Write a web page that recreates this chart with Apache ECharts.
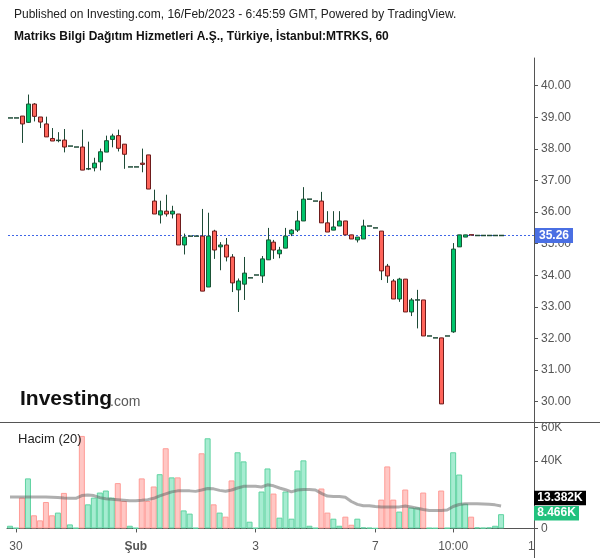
<!DOCTYPE html>
<html><head><meta charset="utf-8">
<script src="https://cdn.jsdelivr.net/npm/echarts@6/dist/echarts.min.js"></script>
<style>html,body{margin:0;padding:0;background:#fff}#c{width:600px;height:558px}</style>
</head><body><div id="c"></div>
<script>
const openP = [38.98,38.98,39.04,38.84,39.42,39.01,38.79,38.33,38.27,38.28,
38.09,38.06,38.06,37.37,37.40,37.59,37.90,38.30,38.42,38.15,
37.43,37.43,37.55,37.81,36.35,35.91,36.03,35.94,35.94,34.96,
35.24,35.24,35.24,33.63,35.40,34.90,34.96,34.58,33.54,33.72,
33.92,34.01,33.98,34.49,35.05,34.68,34.86,35.31,35.43,35.72,
36.41,36.35,36.35,35.66,35.43,35.56,35.72,35.28,35.12,35.15,
35.56,35.50,35.40,34.29,33.82,33.25,33.88,32.84,33.22,33.22,
32.08,32.02,32.02,32.08,32.21,34.90,35.21,35.28,35.26,35.26,
35.26,35.26,35.26];
const closeP = [38.98,38.98,38.79,39.42,39.03,38.85,38.38,38.25,38.28,38.06,
38.09,38.06,37.33,37.38,37.55,37.91,38.26,38.41,38.02,37.83,
37.43,37.43,37.51,36.73,35.94,36.04,35.94,36.03,34.96,35.21,
35.24,35.24,33.50,35.24,34.80,34.96,34.58,33.76,33.82,34.07,
33.92,34.01,34.52,35.12,34.80,34.80,35.24,35.43,35.72,36.41,
36.41,36.35,35.66,35.37,35.53,35.72,35.28,35.15,35.21,35.56,
35.56,35.50,34.14,33.98,33.25,33.88,32.84,33.22,33.22,32.08,
32.08,32.02,29.93,32.08,34.83,35.28,35.28,35.26,35.26,35.26,
35.26,35.26,35.26];
const highP = [38.98,38.98,39.04,39.72,39.45,39.01,39.02,38.66,38.53,38.63,
38.09,38.06,38.61,38.23,37.72,38.01,38.42,38.48,38.61,38.15,
37.43,37.43,38.01,37.81,36.71,36.36,36.55,36.20,35.94,35.32,
35.24,35.24,36.10,35.98,35.44,35.05,35.18,34.67,33.90,34.58,
33.92,34.01,34.61,35.50,35.12,34.90,35.50,35.46,36.04,36.79,
36.41,36.35,36.64,36.03,36.03,36.03,35.72,35.28,35.21,35.76,
35.56,35.50,35.40,34.36,33.88,33.92,33.88,33.28,33.54,33.22,
32.08,32.02,32.02,32.08,35.02,35.28,35.28,35.28,35.26,35.26,
35.26,35.26,35.26];
const lowP = [38.98,38.98,38.19,38.82,38.87,38.66,38.38,38.25,38.21,37.89,
38.09,38.06,37.33,37.33,37.29,37.32,37.90,38.05,37.92,37.37,
37.43,37.43,37.26,36.73,35.94,35.64,35.86,35.80,34.96,34.66,
35.24,35.24,33.50,33.63,34.52,34.16,34.44,33.47,32.84,33.22,
33.92,34.01,33.76,34.49,34.52,34.54,34.86,35.24,35.37,35.72,
36.41,36.35,35.66,35.37,35.43,35.56,35.28,35.15,35.04,35.15,
35.56,35.50,33.85,33.76,33.25,33.16,32.84,32.71,32.32,32.08,
32.08,32.02,29.93,32.08,32.18,34.90,35.21,35.26,35.26,35.26,
35.26,35.26,35.26];
const volume = [1600,300,18300,29700,7800,4800,15700,7800,9400,21100,
2400,300,54900,14300,18300,21300,22500,18300,26900,16300,
1600,300,29700,16300,24900,32200,47600,30300,30300,10700,
8800,300,44600,53500,14300,9400,7000,28500,45200,39800,
4000,300,21900,35600,20700,6400,21900,5800,34400,40400,
1600,300,23700,9400,5800,1600,7000,2200,5800,600,
400,100,17100,36800,17100,10000,23100,12400,12400,21300,
300,200,22500,300,45200,32000,14700,7000,600,400,
600,1600,8466];
const volMA = [18700,18700,18700,18700,18700,18600,18600,18500,18300,18000,
17900,17900,19500,19900,19500,18300,17600,17300,17100,16800,
16400,16400,16700,17100,17900,19300,20500,21700,22300,22300,
22300,22000,22800,23700,23500,22600,22100,22800,24000,25000,
25000,25000,24600,25900,25300,24000,23000,21700,22800,23100,
23100,22800,20800,19200,19000,19000,18500,16000,14300,13500,
13500,13000,12700,12700,12700,12800,13300,12700,12000,11200,
10700,10700,10700,10900,13000,14200,14600,14700,14600,14500,
14300,14000,13382];
const xTickIndex = [1, 21, 41, 61, 74];
const xTickLabels = ['30', 'Şub', '3', '7', '10:00'];
const priceTicks = [30,31,32,33,34,35,36,37,38,39,40];
const volTicks = [0,20000,40000,60000];
const volLabelTicks = [0,40000,60000];
const lastPrice = 35.26;
const lastVolume = 8466;
const lastVolMA = 13382;

const N_CAT = 88;
const categories = [];
for (let i = 0; i < N_CAT; i++) categories.push('b' + i);

const candleData = openP.map((o, i) => [i, o, closeP[i], lowP[i], highP[i]]);
const volData = volume.map((v, i) => {
  const up = closeP[i] >= openP[i];
  return { value: v, itemStyle: { color: up ? '#a6ecd1' : '#ffc7c4', borderColor: up ? '#5fd3a1' : '#ff9c97', borderWidth: 1 } };
});

function renderCandle(params, api) {
  const x = api.value(0), o = api.value(1), c = api.value(2), l = api.value(3), h = api.value(4);
  const pO = api.coord([x, o]), pC = api.coord([x, c]), pL = api.coord([x, l]), pH = api.coord([x, h]);
  const cx = Math.round(pO[0]) + 0.5;
  const up = c >= o;
  const children = [];
  if (h > l) children.push({ type: 'line', shape: { x1: cx, y1: pH[1], x2: cx, y2: pL[1] }, style: { stroke: '#1d4a36', lineWidth: 1 } });
  if (Math.abs(pO[1] - pC[1]) < 1) {
    children.push({ type: 'line', shape: { x1: cx - 2.5, y1: pO[1], x2: cx + 2.5, y2: pO[1] }, style: { stroke: up ? '#1d4a36' : '#6e1b1b', lineWidth: 1.5 } });
  } else {
    const top = Math.min(pO[1], pC[1]), hgt = Math.abs(pO[1] - pC[1]);
    children.push({ type: 'rect', shape: { x: cx - 2, y: top, width: 4, height: hgt }, style: { fill: up ? '#00c46b' : '#ff645a', stroke: up ? '#1b5436' : '#6e1b1b', lineWidth: 1 } });
  }
  return { type: 'group', children };
}

const FONT = '"Liberation Sans", Arial, sans-serif';
const chart = echarts.init(document.getElementById('c'), null, { renderer: 'canvas' });
const gridL = 7, gridR = 66;
chart.setOption({
  animation: false,
  backgroundColor: '#fff',
  textStyle: { fontFamily: FONT },
  grid: [
    { left: gridL, right: gridR, top: 58, height: 364.5 },
    { left: gridL, right: gridR, top: 422.5, height: 111.8 }
  ],
  xAxis: [
    { type: 'category', gridIndex: 0, data: categories, show: false },
    { type: 'category', gridIndex: 1, data: categories,
      axisLine: { show: true, lineStyle: { color: '#555', width: 1 } },
      axisTick: { show: true, alignWithLabel: true, length: 4, lineStyle: { color: '#555' }, interval: (i) => xTickIndex.includes(i) },
      axisLabel: { show: true, margin: 6, color: '#555', fontSize: 12, fontFamily: FONT,
        interval: (i) => xTickIndex.includes(i),
        formatter: (v, i) => { const k = xTickIndex.indexOf(i); if (k < 0) return ''; const t = xTickLabels[k]; return t === 'Şub' ? '{b|' + t + '}' : t; },
        rich: { b: { fontWeight: 'bold', color: '#555', fontSize: 12, fontFamily: FONT } } },
      splitLine: { show: false } }
  ],
  yAxis: [
    { type: 'value', gridIndex: 0, position: 'right', min: 29.342, max: 40.877, scale: true,
      axisLine: { show: true, lineStyle: { color: '#555', width: 1 } },
      axisTick: { show: true, length: 4, lineStyle: { color: '#555' }, customValues: priceTicks },
      axisLabel: { show: true, margin: 7, color: '#555', fontSize: 12, fontFamily: FONT, customValues: priceTicks, formatter: v => v.toFixed(2) },
      splitLine: { show: false } },
    { type: 'value', gridIndex: 1, position: 'right', min: -3473, max: 62874,
      axisLine: { show: true, lineStyle: { color: '#555', width: 1 } },
      axisTick: { show: true, length: 4, lineStyle: { color: '#555' }, customValues: volTicks },
      axisLabel: { show: true, margin: 7, color: '#555', fontSize: 12, fontFamily: FONT, customValues: volLabelTicks, formatter: v => v === 0 ? '0' : (v / 1000) + 'K' },
      splitLine: { show: false } }
  ],
  series: [
    { type: 'custom', xAxisIndex: 0, yAxisIndex: 0, data: candleData, renderItem: renderCandle, encode: { x: 0, y: [1, 2, 3, 4] }, clip: false, z: 3 },
    { type: 'bar', xAxisIndex: 1, yAxisIndex: 1, data: volData, barWidth: 6, z: 2 },
    { type: 'line', xAxisIndex: 1, yAxisIndex: 1, data: volMA, symbol: 'none', z: 4,
      lineStyle: { color: 'rgba(95,95,95,0.5)', width: 3 } }
  ]
});

const yPrice = chart.convertToPixel({ yAxisIndex: 0 }, lastPrice);
const yVol = chart.convertToPixel({ yAxisIndex: 1 }, lastVolume);
const yMA = chart.convertToPixel({ yAxisIndex: 1 }, lastVolMA);
const axisX = 600 - gridR;
const yDash = Math.round(yPrice) + 0.5;

chart.setOption({
  graphic: [
    { type: 'line', z: 1, shape: { x1: gridL + 1, y1: yDash, x2: axisX, y2: yDash }, style: { stroke: '#3f66e6', lineWidth: 1, lineDash: [2, 2] } },
    { type: 'text', left: 14, top: 9, z: 100, style: { text: 'Published on Investing.com, 16/Feb/2023 - 6:45:59 GMT, Powered by TradingView.', font: '12px ' + FONT, fill: '#222' } },
    { type: 'text', left: 14, top: 31, z: 100, style: { text: 'Matriks Bilgi Dağıtım Hizmetleri A.Ş., Türkiye, İstanbul:MTRKS, 60', font: 'bold 12px ' + FONT, fill: '#111' } },
    { type: 'text', x: 20, y: 389, z: 100, style: { text: 'Investing', font: 'bold 21px ' + FONT, fill: '#111', verticalAlign: 'top' } },
    { type: 'text', x: 110, y: 395, z: 100, style: { text: '.com', font: '14px ' + FONT, fill: '#5a5a5a', verticalAlign: 'top' } },
    { type: 'text', left: 18, top: 433, z: 100, style: { text: 'Hacim (20)', font: '13px ' + FONT, fill: '#222' } },
    { type: 'line', z: 100, shape: { x1: 0, y1: 422.5, x2: 600, y2: 422.5 }, style: { stroke: '#555', lineWidth: 1 } },
    { type: 'line', z: 100, shape: { x1: axisX + 0.5, y1: 534, x2: axisX + 0.5, y2: 558 }, style: { stroke: '#555', lineWidth: 1 } },
    { type: 'text', x: 528, y: 541, z: 100, style: { text: '1', font: '12px ' + FONT, fill: '#555' } },
    { type: 'rect', z: 100, shape: { x: axisX + 1, y: yPrice - 7.5, width: 38, height: 15 }, style: { fill: '#4a6fe3' } },
    { type: 'text', z: 101, x: axisX + 20, y: yPrice, style: { text: lastPrice.toFixed(2), font: 'bold 12px ' + FONT, fill: '#fff', align: 'center', verticalAlign: 'middle' } },
    { type: 'rect', z: 100, shape: { x: axisX, y: yMA - 8 - 7.2, width: 52, height: 14.5 }, style: { fill: '#000' } },
    { type: 'text', z: 101, x: axisX + 26, y: yMA - 8, style: { text: (lastVolMA / 1000).toFixed(3) + 'K', font: 'bold 12px ' + FONT, fill: '#fff', align: 'center', verticalAlign: 'middle' } },
    { type: 'rect', z: 100, shape: { x: axisX, y: yVol - 1 - 7.3, width: 45, height: 14.7 }, style: { fill: '#22c27e' } },
    { type: 'text', z: 101, x: axisX + 22.5, y: yVol - 1, style: { text: (lastVolume / 1000).toFixed(3) + 'K', font: 'bold 12px ' + FONT, fill: '#fff', align: 'center', verticalAlign: 'middle' } }
  ]
});
</script>
</body></html>
